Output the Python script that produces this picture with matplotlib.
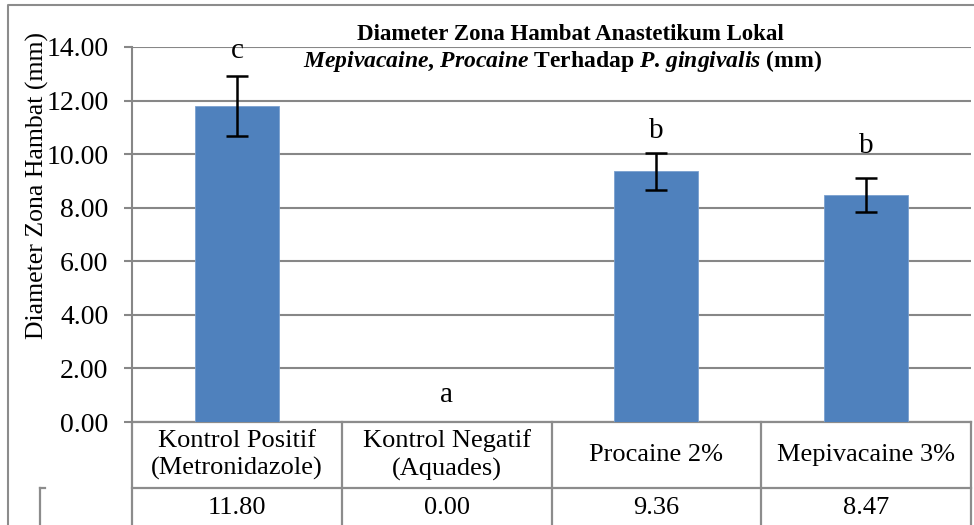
import numpy as np
import matplotlib.pyplot as plt
import matplotlib.transforms as mtransforms
from matplotlib.lines import Line2D

plt.rcParams['font.family'] = ['Liberation Serif', 'DejaVu Serif']
plt.rcParams['mathtext.fontset'] = 'custom'
plt.rcParams['mathtext.it'] = 'Liberation Serif:italic:bold'
plt.rcParams['mathtext.rm'] = 'Liberation Serif:bold'
plt.rcParams['mathtext.bf'] = 'Liberation Serif:bold'

# data
categories = ['Kontrol Positif\n(Metronidazole)', 'Kontrol Negatif\n(Aquades)', 'Procaine 2%', 'Mepivacaine 3%']
means = [11.80, 0.00, 9.36, 8.47]
errors = [1.12, 0.0, 0.68, 0.64]
letters = ['c', 'a', 'b', 'b']
letter_y = [13.85, 1.0, 10.85, 10.3]
value_labels = ['11.80', '0.00', '9.36', '8.47']

W, H = 974, 525
fig = plt.figure(figsize=(W / 100, H / 100), dpi=100)
ax = fig.add_axes([132 / W, 1 - 422 / H, (971 - 132) / W, (422 - 47) / H])

x = np.arange(len(categories))
bar_color = '#4F81BD'
grid_color = '#878787'

ax.bar(x, means, width=0.4, color=bar_color, edgecolor='#7aa0cf', linewidth=0.6, zorder=3)
errx = [i for i, e in zip(x, errors) if e > 0]
erry = [m for m, e in zip(means, errors) if e > 0]
erre = [e for e in errors if e > 0]
ax.errorbar(errx, erry, yerr=erre, fmt='none', ecolor='black', elinewidth=1.8,
            capsize=8, capthick=1.8, zorder=4)

for i, (lt, ly) in enumerate(zip(letters, letter_y)):
    ax.text(i, ly, lt, ha='center', va='center', fontsize=21, zorder=5)

ax.set_xlim(-0.5, len(categories) - 0.5)
ax.set_ylim(0, 14)
ax.set_yticks(np.arange(0, 15, 2))
ax.set_yticklabels([f'{v:.2f}' for v in np.arange(0, 15, 2)], fontsize=20)
ax.yaxis.grid(True, color=grid_color, linewidth=1.5, zorder=0)
ax.set_axisbelow(True)
for s in ['top', 'right', 'bottom']:
    ax.spines[s].set_visible(False)
ax.spines['left'].set_color(grid_color)
ax.spines['left'].set_linewidth(1.5)
ax.tick_params(axis='y', length=6, width=1.5, color=grid_color, pad=11)
ax.tick_params(axis='x', length=0)
ax.set_xticks([])

# data table below the plot
trans = mtransforms.blended_transform_factory(ax.transData, fig.transFigure)
row_top = 1 - 422 / H
row_mid = 1 - 488 / H
for i, cat in enumerate(categories):
    ax.text(i, (row_top + row_mid) / 2, cat, transform=trans, ha='center', va='center',
            fontsize=19, linespacing=1.3)
    ax.text(i, 1 - 508 / H, value_labels[i], transform=trans, ha='center', va='center',
            fontsize=19)
tbl_kw = dict(color='#8c8c8c', linewidth=1.6, clip_on=False)
for b in np.arange(-0.5, len(categories)):
    ax.add_line(Line2D([b, b], [row_top, -0.05], transform=trans, **tbl_kw))
ax.add_line(Line2D([-0.5, len(categories) - 0.5], [row_top, row_top], transform=trans, **tbl_kw))
ax.add_line(Line2D([-0.5, len(categories) - 0.5], [row_mid, row_mid], transform=trans, **tbl_kw))
fig.add_artist(Line2D([40 / W, 40 / W], [row_mid, 0], transform=fig.transFigure, **tbl_kw))
fig.add_artist(Line2D([40 / W, 45 / W], [row_mid, row_mid], transform=fig.transFigure, **tbl_kw))

# chart area border
fig.add_artist(Line2D([8 / W, 8 / W, 1.0], [0, 1 - 5 / H, 1 - 5 / H],
                      transform=fig.transFigure, color='#8c8c8c', linewidth=1.5))

fig.text(37 / W, 1 - 185 / H, 'Diameter Zona Hambat (mm)', rotation=90,
         ha='center', va='center', fontsize=18.5)

fig.text(570 / W, 1 - 34 / H, 'Diameter Zona Hambat Anastetikum Lokal',
         ha='center', va='center', fontsize=16.5, fontweight='bold')
fig.text(563 / W, 1 - 61 / H,
         r'$\mathit{Mepivacaine}$, $\mathit{Procaine}$ Terhadap $\mathit{P}$. $\mathit{gingivalis}$ (mm)',
         ha='center', va='center', fontsize=17, fontweight='bold')

fig.savefig('out.png', dpi=100)
